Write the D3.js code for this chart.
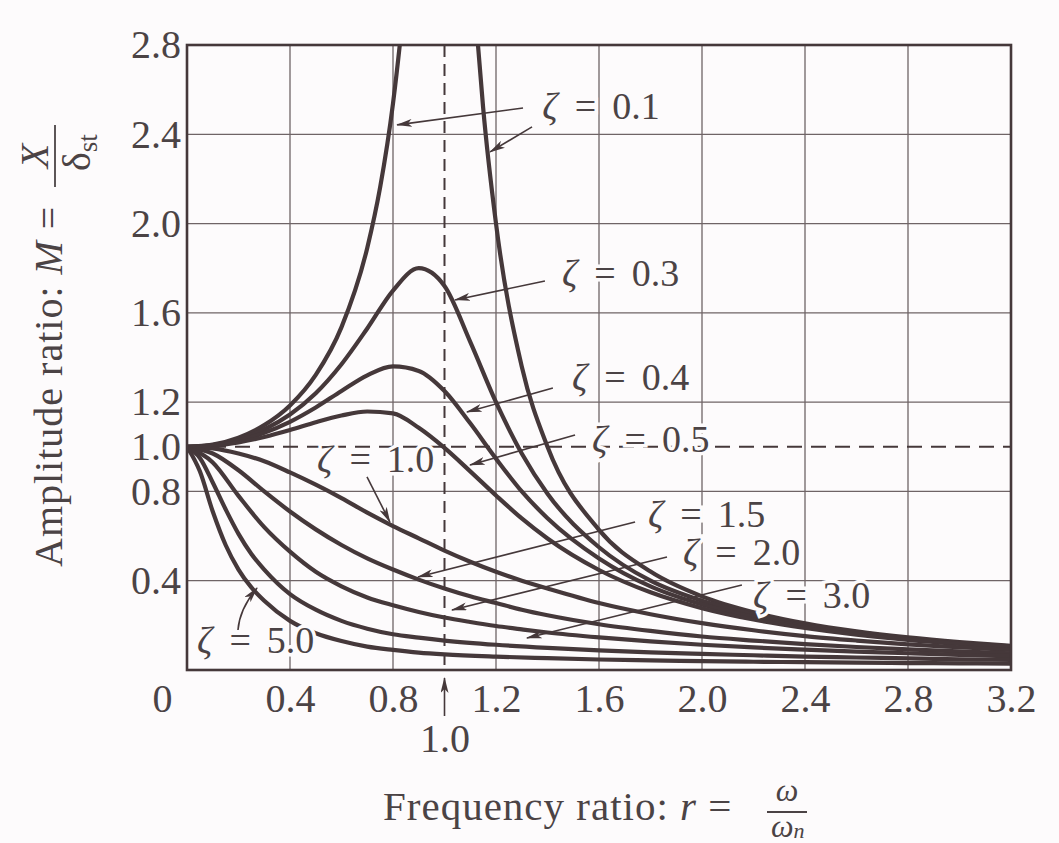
<!DOCTYPE html>
<html><head><meta charset="utf-8">
<script src="https://cdn.jsdelivr.net/npm/d3@7"></script>
<style>
html,body{margin:0;padding:0;background:#fdfbfc;}
svg{display:block;}
text{font-family:"Liberation Serif","Times New Roman",serif;fill:#4b4345;}
</style></head><body>
<svg id="chart" width="1059" height="843"></svg>
<script>
// ---------- data ----------
const ratio = [0,0.1,0.2,0.3,0.4,0.5,0.6,0.7,0.8,0.9,1.0,1.1,1.2,1.3,1.4,1.6,1.8,2.0,2.2,2.4,2.6,2.8,3.0,3.2];
const ratioSteep = [0,0.05,0.1,0.15,0.2,0.25,0.3,0.4,0.5,0.6,0.7,0.8,0.9,1.0,1.2,1.4,1.6,1.8,2.0,2.2,2.4,2.6,2.8,3.0,3.2];
const ratioResLeft = [0,0.1,0.2,0.3,0.4,0.5,0.6,0.7,0.75,0.8,0.83,0.85];
const ratioResRight = [1.11,1.13,1.15,1.2,1.3,1.4,1.6,1.8,2.0,2.2,2.4,2.6,2.8,3.0,3.2];

const m01Left  = [1,1.01,1.041,1.097,1.185,1.322,1.536,1.891,2.162,2.538,2.84,3.07];
const m01Right = [3.11,2.80,2.52,2.0,1.36,1.0,0.628,0.441,0.330,0.259,0.209,0.173,0.146,0.125,0.108];
const m03 = [1,1.008,1.034,1.078,1.145,1.24,1.37,1.53,1.70,1.80,1.72,1.47,1.20,0.97,0.79,0.55,0.40,0.31,0.25,0.20,0.17,0.14,0.12,0.106];
const m04 = [1,1.007,1.028,1.063,1.112,1.176,1.25,1.32,1.36,1.34,1.25,1.105,0.947,0.80,0.68,0.50,0.375,0.294,0.237,0.195,0.163,0.139,0.12,0.104];
const m05 = [1,1.005,1.02,1.044,1.075,1.11,1.14,1.158,1.15,1.085,0.995,0.89,0.782,0.679,0.589,0.448,0.348,0.277,0.226,0.188,0.158,0.135,0.117,0.102];
const m10 = [1,0.993,0.97,0.935,0.885,0.83,0.77,0.705,0.645,0.59,0.535,0.485,0.44,0.40,0.365,0.30,0.25,0.21,0.178,0.152,0.132,0.115,0.102,0.09];
const m15 = [1,0.97,0.895,0.80,0.71,0.63,0.56,0.50,0.45,0.405,0.365,0.33,0.30,0.27,0.245,0.205,0.175,0.15,0.132,0.116,0.103,0.092,0.083,0.075];
const m20 = [1,0.93,0.78,0.64,0.53,0.44,0.375,0.325,0.29,0.26,0.235,0.215,0.197,0.182,0.168,0.146,0.128,0.113,0.101,0.091,0.082,0.075,0.068,0.062];
const m30 = [1,0.95,0.84,0.72,0.61,0.52,0.45,0.34,0.27,0.22,0.185,0.16,0.145,0.132,0.113,0.099,0.088,0.079,0.072,0.066,0.06,0.056,0.052,0.048,0.045];
const m50 = [1,0.89,0.71,0.56,0.45,0.37,0.31,0.22,0.165,0.13,0.105,0.09,0.078,0.07,0.06,0.053,0.047,0.043,0.04,0.037,0.035,0.033,0.031,0.03,0.028];

const xTickValues = [0,0.4,0.8,1.2,1.6,2.0,2.4,2.8,3.2];
const yTickValues = [0.4,0.8,1.0,1.2,1.6,2.0,2.4,2.8];
const xGrid = [0.4,0.8,1.2,1.6,2.0,2.4,2.8];
const yGrid = [0.4,0.8,1.2,1.6,2.0,2.4];
const resonance = 1.0;   // dashed vertical line, r = 1
const staticRatio = 1.0; // dashed horizontal line, M = 1

const zetaNames  = ["0.1","0.3","0.4","0.5","1.0","1.5","2.0","3.0","5.0"];
const labelAt    = [[1.38,2.47],[1.456,1.72],[1.495,1.254],[1.573,0.977],[0.505,0.887],[1.79,0.641],[1.926,0.47],[2.198,0.278],[0.039,0.076]];
const arrowFrom  = [[[1.305,2.518],[1.34,2.433]],[[1.39,1.743]],[[1.421,1.263]],[[1.507,1.053]],[[0.699,0.865]],[[1.74,0.663]],[[1.864,0.506]],[[2.155,0.381]],[[0.198,0.179]]];
const arrowTo    = [[[0.816,2.442],[1.177,2.321]],[[1.041,1.658]],[[1.087,1.156]],[[1.099,0.918]],[[0.788,0.663]],[[0.897,0.417]],[[1.029,0.269]],[[1.32,0.143]],[[0.272,0.367]]];

// ---------- drawing ----------
const svg = d3.select("#chart");
const x = d3.scaleLinear().domain([0,3.2]).range([187,1011]);
const y = d3.scaleLinear().domain([0,2.8]).range([670,45]);
const ink = "#45383a";
const txt = "#4b4345";
const paper = "#fdfbfc";

svg.append("defs").append("clipPath").attr("id","plotClip")
  .append("rect").attr("x",x(0)).attr("y",y(2.8)).attr("width",x(3.2)-x(0)).attr("height",y(0)-y(2.8));
const marker = svg.select("defs").append("marker").attr("id","arrow")
  .attr("viewBox","0 0 16 8").attr("refX",15).attr("refY",4)
  .attr("markerWidth",16).attr("markerHeight",8).attr("markerUnits","userSpaceOnUse").attr("orient","auto");
marker.append("path").attr("d","M0,0 L16,4 L0,8 L4,4 Z").attr("fill",ink);

// grid
svg.append("g").selectAll("line").data(xGrid).join("line")
  .attr("x1",d=>x(d)).attr("x2",d=>x(d)).attr("y1",y(0)).attr("y2",y(2.8))
  .attr("stroke","#6f6466").attr("stroke-width",1.3);
svg.append("g").selectAll("line").data(yGrid).join("line")
  .attr("x1",x(0)).attr("x2",x(3.2)).attr("y1",d=>y(d)).attr("y2",d=>y(d))
  .attr("stroke","#6f6466").attr("stroke-width",1.3);
// dashed reference lines
svg.append("line").attr("x1",x(resonance)).attr("x2",x(resonance)).attr("y1",y(2.8)).attr("y2",y(0))
  .attr("stroke",ink).attr("stroke-width",2).attr("stroke-dasharray","12,7");
svg.append("line").attr("x1",x(0)).attr("x2",x(3.2)).attr("y1",y(staticRatio)).attr("y2",y(staticRatio))
  .attr("stroke",ink).attr("stroke-width",2).attr("stroke-dasharray","15,9");

// curves
const line = d3.line().x(d=>x(d[0])).y(d=>y(d[1])).curve(d3.curveMonotoneX);
const series = [
  [ratioResLeft,m01Left],[ratioResRight,m01Right],
  [ratio,m03],[ratio,m04],[ratio,m05],[ratio,m10],[ratio,m15],[ratio,m20],
  [ratioSteep,m30],[ratioSteep,m50]
];
svg.append("g").attr("clip-path","url(#plotClip)").selectAll("path").data(series).join("path")
  .attr("d",s=>line(d3.zip(s[0],s[1])))
  .attr("fill","none").attr("stroke",ink).attr("stroke-width",4.2).attr("stroke-linejoin","round");

// frame
svg.append("rect").attr("x",x(0)).attr("y",y(2.8)).attr("width",x(3.2)-x(0)).attr("height",y(0)-y(2.8))
  .attr("fill","none").attr("stroke",ink).attr("stroke-width",2.6);

// axes
const fmt = d=> d===0 ? "0" : d3.format(".1f")(d);
const yAxis = svg.append("g").attr("transform",`translate(${x(0)},0)`)
  .call(d3.axisLeft(y).tickValues(yTickValues).tickSize(0).tickPadding(6).tickFormat(fmt));
const xAxis = svg.append("g").attr("transform",`translate(0,${y(0)})`)
  .call(d3.axisBottom(x).tickValues(xTickValues).tickSize(0).tickPadding(14).tickFormat(fmt));
const xAxis2 = svg.append("g").attr("transform",`translate(0,${y(0)})`)
  .call(d3.axisBottom(x).tickValues([resonance]).tickSize(0).tickPadding(54).tickFormat(fmt));
[yAxis,xAxis,xAxis2].forEach(a=>{a.select(".domain").remove();
  a.selectAll("text").attr("font-size",40).attr("font-family","Liberation Serif").attr("fill",txt);});
xAxis.selectAll(".tick").filter(d=>d===0).select("text").attr("dx",-25);
// arrow pointing at r = 1
svg.append("line").attr("x1",x(resonance)).attr("x2",x(resonance)).attr("y1",y(0)+46).attr("y2",y(0)+8)
  .attr("stroke",ink).attr("stroke-width",1.6).attr("marker-end","url(#arrow)");

// annotation labels
const ann = svg.append("g");
zetaNames.forEach((nm,i)=>{
  arrowFrom[i].forEach((f,j)=>{
    const t = arrowTo[i][j];
    let d;
    if (nm==="5.0") {
      const mx=(x(f[0])+x(t[0]))/2-8, my=(y(f[1])+y(t[1]))/2;
      d=`M${x(f[0])},${y(f[1])} Q${mx},${my} ${x(t[0])},${y(t[1])}`;
    } else d=`M${x(f[0])},${y(f[1])} L${x(t[0])},${y(t[1])}`;
    ann.append("path").attr("d",d).attr("fill","none").attr("stroke",ink).attr("stroke-width",1.6).attr("marker-end","url(#arrow)");
  });
  const tx = ann.append("text").attr("x",x(labelAt[i][0])).attr("y",y(labelAt[i][1]))
    .attr("font-size",38).attr("stroke",paper).attr("stroke-width",7).attr("paint-order","stroke");
  tx.append("tspan").attr("font-style","italic").text("ζ");
  tx.append("tspan").attr("dx",17).text("=");
  tx.append("tspan").attr("dx",16).text(nm);
});

// y axis title
const yt = svg.append("g").attr("transform","translate(62,567) rotate(-90)");
const ytxt = yt.append("text").attr("x",0).attr("y",0).attr("font-size",40).attr("letter-spacing",1);
ytxt.append("tspan").text("Amplitude ratio: ");
ytxt.append("tspan").attr("font-style","italic").text("M");
ytxt.append("tspan").text(" =");
yt.append("line").attr("x1",380).attr("x2",442).attr("y1",-7).attr("y2",-7).attr("stroke",txt).attr("stroke-width",1.8);
yt.append("text").attr("x",411).attr("y",-14).attr("text-anchor","middle").attr("font-size",40).attr("font-style","italic").text("X");
const den = yt.append("text").attr("x",396).attr("y",28).attr("font-size",40);
den.append("tspan").text("δ");
den.append("tspan").attr("font-size",27).attr("dy",7).text("st");

// x axis title
const xt = svg.append("text").attr("x",383).attr("y",820).attr("font-size",41).attr("letter-spacing",1);
xt.append("tspan").text("Frequency ratio: ");
xt.append("tspan").attr("font-style","italic").text("r");
xt.append("tspan").text(" =");
svg.append("line").attr("x1",767).attr("x2",807).attr("y1",812).attr("y2",812).attr("stroke",txt).attr("stroke-width",1.8);
svg.append("text").attr("x",787).attr("y",801).attr("text-anchor","middle").attr("font-size",32).attr("font-style","italic").text("ω");
const xden = svg.append("text").attr("x",771).attr("y",837).attr("font-size",32).attr("font-style","italic");
xden.append("tspan").text("ω");
xden.append("tspan").attr("font-size",22).attr("dy",1).text("n");
</script></body></html>
